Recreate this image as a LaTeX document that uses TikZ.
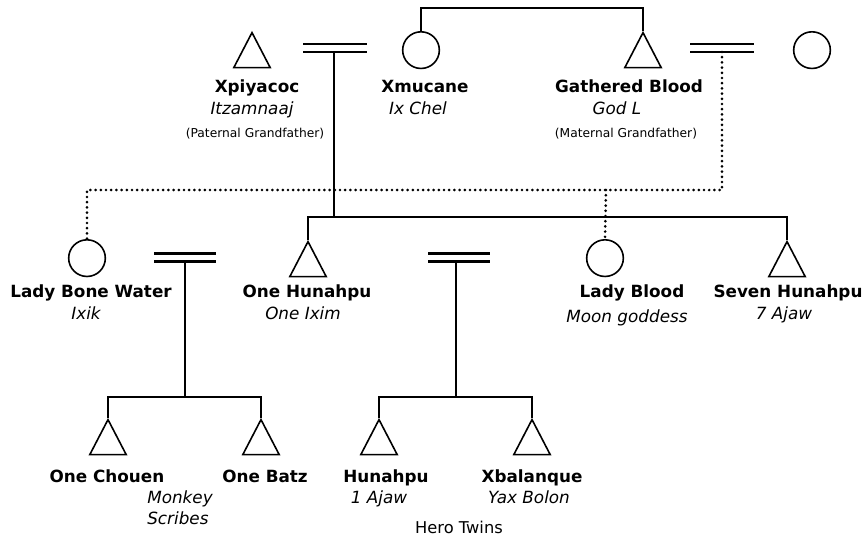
\documentclass[tikz,border=0pt]{standalone}
\usepackage{fontspec}
\setmainfont{DejaVu Sans}
\usetikzlibrary{shapes.geometric}

\tikzset{
  male/.style={draw, line width=1.2pt, regular polygon, regular polygon sides=3,
    minimum size=35pt, inner sep=0pt, xscale=0.9, anchor=corner 1},
  female/.style={draw, line width=1.2pt, circle, minimum size=27.5pt,
    inner sep=0pt, anchor=north},
  wed/.style={line width=2pt, double, double distance=4pt},
  kin/.style={line width=1.2pt},
  adopt/.style={line width=2.2pt, dash pattern=on 0pt off 3.9pt, line cap=round},
  who/.style={font=\fontsize{12.6}{14}\selectfont\bfseries, anchor=base, inner sep=0pt},
  alias/.style={font=\fontsize{12.6}{14}\selectfont\itshape, anchor=base, inner sep=0pt},
  role/.style={font=\fontsize{9.2}{11}\selectfont, anchor=base, inner sep=0pt},
}

\begin{document}
\begin{tikzpicture}[x=0.75pt, y=-0.75pt]
  \useasboundingbox (0,0) rectangle (866,539);

  % Grandparents
  \node[male]   (xpiyacoc) at (252,31) {};
  \node[female] (xmucane)  at (421,31) {};
  \node[male]   (gathered) at (643,31) {};
  \node[female] (wife)     at (812,31) {};

  % Parents
  \node[female] (ladybone)  at (87,239) {};
  \node[male]   (onehun)    at (308,240) {};
  \node[female] (ladyblood) at (605,239) {};
  \node[male]   (sevenhun)  at (787,240) {};

  % Children
  \node[male] (chouen)    at (108,418) {};
  \node[male] (batz)      at (261,418) {};
  \node[male] (hunahpu)   at (379,418) {};
  \node[male] (xbalanque) at (532,418) {};

  % Couples
  \coordinate (c1l) at (303,48);  \coordinate (c1r) at (367,48);  \coordinate (c1) at (334,52);
  \coordinate (c2l) at (690,48);  \coordinate (c2r) at (754,48);  \coordinate (c2) at (722,52);
  \coordinate (c3l) at (154,257.5); \coordinate (c3r) at (216,257.5); \coordinate (c3) at (185,261.5);
  \coordinate (c4l) at (428,257.5); \coordinate (c4r) at (490,257.5); \coordinate (c4) at (456,261.5);

  \draw[wed] (c1l) -- (c1r);
  \draw[wed] (c2l) -- (c2r);
  \draw[wed] (c3l) -- (c3r);
  \draw[wed] (c4l) -- (c4r);

  % Sibling bars
  \coordinate (b1) at (532,8);
  \coordinate (b2) at (334,217);
  \coordinate (b3) at (185,397);
  \coordinate (b4) at (456,397);
  \coordinate (d2) at (606,190);

  \draw[kin] (xmucane.north) |- (b1) -| (gathered.corner 1);
  \draw[kin] (c1) -- (b2);
  \draw[kin] (onehun.corner 1) |- (b2) -| (sevenhun.corner 1);
  \draw[kin] (c3) -- (b3);
  \draw[kin] (chouen.corner 1) |- (b3) -| (batz.corner 1);
  \draw[kin] (c4) -- (b4);
  \draw[kin] (hunahpu.corner 1) |- (b4) -| (xbalanque.corner 1);

  % Dotted line of descent
  \draw[adopt] (c2) |- (d2) -| (ladybone.north);
  \draw[adopt] (d2) -- (ladyblood.north);

  % Names
  \node[who]   (n1)  at (257,92)  {Xpiyacoc};
  \node[alias] (a1)  at (252,114) {Itzamnaaj};
  \node[role]  (r1)  at (255,137) {(Paternal Grandfather)};
  \node[who]   (n2)  at (425,92)  {Xmucane};
  \node[alias] (a2)  at (418,114) {Ix Chel};
  \node[who]   (n3)  at (629,92)  {Gathered Blood};
  \node[alias] (a3)  at (617,114) {God L};
  \node[role]  (r3)  at (626,137) {(Maternal Grandfather)};

  \node[who]   (n4)  at (91,297)  {Lady Bone Water};
  \node[alias] (a4)  at (86,319)  {Ixik};
  \node[who]   (n5)  at (307,297) {One Hunahpu};
  \node[alias] (a5)  at (303,319) {One Ixim};
  \node[who]   (n6)  at (632,297) {Lady Blood};
  \node[alias] (a6)  at (627,322) {Moon goddess};
  \node[who]   (n7)  at (788,297) {Seven Hunahpu};
  \node[alias] (a7)  at (784,319) {7 Ajaw};

  \node[who]   (n8)  at (107,482) {One Chouen};
  \node[who]   (n9)  at (265,482) {One Batz};
  \node[alias, anchor=base west] (a8) at (147,503) {Monkey};
  \node[alias, anchor=base west] (a9) at (147,524) {Scribes};
  \node[who]   (n10) at (386,482) {Hunahpu};
  \node[alias] (a10) at (379,503) {1 Ajaw};
  \node[who]   (n11) at (532,482) {Xbalanque};
  \node[alias] (a11) at (529,503) {Yax Bolon};
  \node[anchor=base, inner sep=0pt, font=\fontsize{12.2}{14}\selectfont] (twins) at (459,533) {Hero Twins};

\end{tikzpicture}
\end{document}
